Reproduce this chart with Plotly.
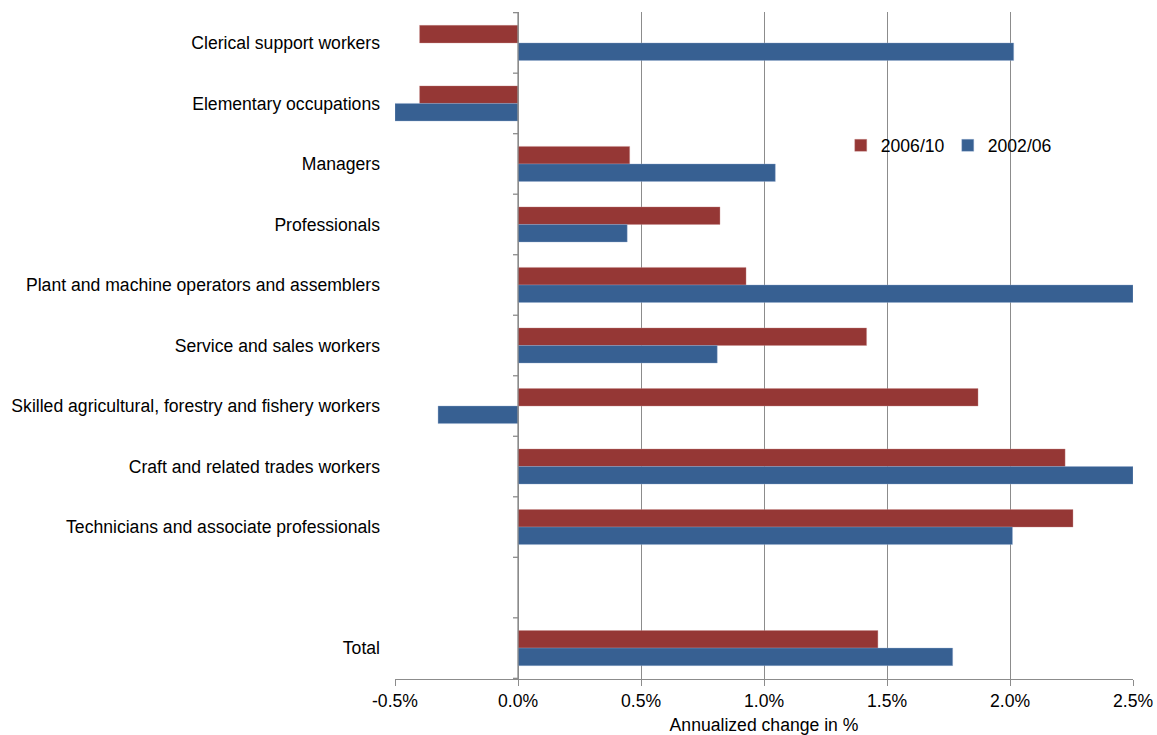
import plotly.graph_objects as go

categories = [
    "Clerical support workers",
    "Elementary occupations",
    "Managers",
    "Professionals",
    "Plant and machine operators and assemblers",
    "Service and sales workers",
    "Skilled agricultural, forestry and fishery workers",
    "Craft and related trades workers",
    "Technicians and associate professionals",
    " ",
    "Total",
]
series_2006_10 = [-0.40, -0.40, 0.454, 0.821, 0.927, 1.417, 1.87, 2.224, 2.256, None, 1.463]
series_2002_06 = [2.015, -0.50, 1.046, 0.444, 2.50, 0.810, -0.325, 2.50, 2.01, None, 1.767]
x_ticks = [-0.5, 0.0, 0.5, 1.0, 1.5, 2.0, 2.5]
x_tick_labels = ["-0.5%", "0.0%", "0.5%", "1.0%", "1.5%", "2.0%", "2.5%"]

RED = "#953735"
BLUE = "#376092"
GRID = "#8c8c8c"
FONT = "Liberation Sans, Arial, sans-serif"
FS = 17.6

fig = go.Figure()
fig.add_trace(go.Bar(
    y=categories, x=series_2006_10, orientation="h", name="2006/10",
    marker=dict(color=RED, line=dict(color="rgba(200,140,140,0.6)", width=0.6)),
))
fig.add_trace(go.Bar(
    y=categories, x=series_2002_06, orientation="h", name="2002/06",
    marker=dict(color=BLUE, line=dict(color="rgba(150,175,210,0.6)", width=0.6)),
))

# tick marks on the vertical axis at category boundaries
shapes = []
for i in range(len(categories) + 1):
    shapes.append(dict(
        type="line", xref="x", yref="y", xsizemode="pixel", xanchor=0,
        x0=-5, x1=0, y0=i - 0.5, y1=i - 0.5,
        line=dict(color=GRID, width=1.3), layer="above",
    ))
# vertical axis line at zero
shapes.append(dict(
    type="line", xref="x", yref="paper", x0=0, x1=0, y0=0, y1=1,
    line=dict(color=GRID, width=1.3), layer="above",
))

fig.update_layout(
    width=1157, height=735,
    margin=dict(l=395, r=24, t=12, b=56, autoexpand=False),
    paper_bgcolor="white", plot_bgcolor="white",
    barmode="group", bargap=0.42, bargroupgap=0,
    font=dict(family=FONT, size=FS, color="#000000"),
    shapes=shapes,
    legend=dict(
        orientation="h", x=0.604, y=0.80, xanchor="left", yanchor="middle",
        font=dict(size=FS), bgcolor="rgba(0,0,0,0)",
        itemwidth=30, entrywidth=62, entrywidthmode="pixels",
    ),
    xaxis=dict(
        range=[-0.5, 2.5], tickvals=x_ticks, ticktext=x_tick_labels,
        showgrid=True, gridcolor=GRID, gridwidth=1.3,
        zeroline=False, automargin=False,
        showline=True, linecolor=GRID, linewidth=1.3,
        ticks="outside", ticklen=6, tickcolor=GRID, tickwidth=1.3,
        tickfont=dict(size=FS),
        title=dict(text="Annualized change in %", font=dict(size=FS), standoff=11),
    ),
    yaxis=dict(
        categoryorder="array", categoryarray=categories,
        autorange="reversed", automargin=False,
        showgrid=False, zeroline=False, showline=False,
        ticks="", ticklabelstandoff=14,
        tickfont=dict(size=FS),
    ),
)

fig.write_html(
    "out.html",
    config={"displayModeBar": False},
    post_script="document.body.style.margin='0';document.body.style.overflow='hidden';",
)
